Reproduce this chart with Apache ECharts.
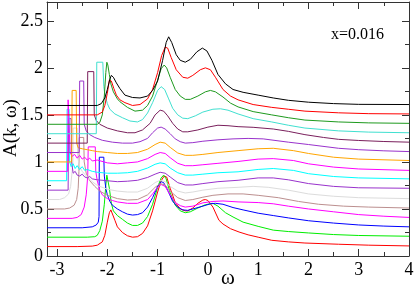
<!DOCTYPE html>
<html>
<head>
<meta charset="utf-8">
<script src="https://cdn.jsdelivr.net/npm/echarts@6/dist/echarts.min.js"></script>
<style>
html,body{margin:0;padding:0;background:#fff;}
#c{width:415px;height:287px;}
</style>
</head>
<body>
<div id="c"></div>
<script>
// Tick values
const xMajorTicks = [-3, -2, -1, 0, 1, 2, 3, 4];
const xMinorTicks = [-2.5, -1.5, -0.5, 0.5, 1.5, 2.5, 3.5];
const yMajorTicks = [0, 0.5, 1, 1.5, 2, 2.5];
const yMinorTicks = [0.25, 0.75, 1.25, 1.75, 2.25];

// Spectra A(k, omega), [omega, A] pairs, offset curves from bottom to top
const curve01 = [[-3.2,0.1],[-2.6,0.1],[-2.3,0.105],[-2.2,0.115],[-2.1,0.15],[-2.05,0.22],[-2.0,0.36],[-1.96,0.46],[-1.93,0.49],[-1.9,0.47],[-1.85,0.38],[-1.8,0.31],[-1.7,0.25],[-1.6,0.215],[-1.5,0.2],[-1.4,0.205],[-1.3,0.24],[-1.2,0.32],[-1.1,0.48],[-1.0,0.68],[-0.93,0.8],[-0.87,0.85],[-0.82,0.84],[-0.75,0.72],[-0.65,0.57],[-0.55,0.5],[-0.45,0.48],[-0.4,0.48],[-0.3,0.51],[-0.2,0.56],[-0.1,0.595],[-0.05,0.6],[0.0,0.59],[0.1,0.52],[0.22,0.38],[0.3,0.34],[0.45,0.29],[0.62,0.255],[0.8,0.225],[1.0,0.2],[1.27,0.167],[1.6,0.15],[1.93,0.138],[2.6,0.125],[3.2,0.115],[4.0,0.107]];
const curve02 = [[-3.2,0.2],[-2.4,0.2],[-2.25,0.205],[-2.2,0.22],[-2.15,0.27],[-2.1,0.37],[-2.06,0.55],[-2.03,0.75],[-2.01,0.86],[-1.99,0.85],[-1.96,0.72],[-1.92,0.56],[-1.88,0.48],[-1.8,0.43],[-1.7,0.39],[-1.6,0.35],[-1.5,0.325],[-1.4,0.325],[-1.3,0.35],[-1.2,0.42],[-1.1,0.55],[-1.0,0.73],[-0.93,0.83],[-0.88,0.86],[-0.83,0.82],[-0.75,0.67],[-0.65,0.54],[-0.55,0.48],[-0.45,0.46],[-0.35,0.47],[-0.2,0.51],[-0.05,0.545],[0.1,0.56],[0.2,0.53],[0.35,0.46],[0.5,0.415],[0.7,0.36],[1.0,0.315],[1.3,0.275],[1.6,0.26],[2.0,0.245],[2.5,0.228],[3.0,0.218],[4.0,0.21]];
const curve03 = [[-3.2,0.3],[-2.5,0.3],[-2.3,0.31],[-2.22,0.33],[-2.18,0.36],[-2.165,0.42],[-2.16,1.05],[-2.07,1.05],[-2.06,0.85],[-2.03,0.72],[-2.0,0.65],[-1.95,0.58],[-1.9,0.54],[-1.8,0.5],[-1.7,0.47],[-1.6,0.445],[-1.5,0.435],[-1.4,0.44],[-1.3,0.46],[-1.2,0.52],[-1.1,0.62],[-1.0,0.74],[-0.93,0.79],[-0.88,0.78],[-0.8,0.7],[-0.7,0.58],[-0.6,0.52],[-0.5,0.49],[-0.4,0.485],[-0.3,0.5],[-0.1,0.53],[0.05,0.555],[0.15,0.56],[0.3,0.55],[0.5,0.515],[0.7,0.49],[1.0,0.455],[1.3,0.43],[1.6,0.405],[2.0,0.375],[2.5,0.35],[3.0,0.33],[3.5,0.318],[4.0,0.31]];
const curve04 = [[-3.2,0.4],[-2.7,0.4],[-2.6,0.41],[-2.52,0.44],[-2.46,0.52],[-2.42,0.65],[-2.39,0.85],[-2.38,1.16],[-2.24,1.16],[-2.23,0.9],[-2.2,0.8],[-2.15,0.7],[-2.1,0.65],[-2.0,0.61],[-1.9,0.59],[-1.8,0.575],[-1.6,0.56],[-1.4,0.56],[-1.2,0.6],[-1.1,0.66],[-1.0,0.73],[-0.93,0.76],[-0.85,0.74],[-0.75,0.65],[-0.65,0.57],[-0.55,0.535],[-0.45,0.52],[-0.3,0.53],[-0.1,0.565],[0.1,0.58],[0.3,0.585],[0.6,0.575],[1.0,0.568],[1.3,0.555],[1.6,0.53],[2.0,0.5],[2.5,0.47],[3.0,0.44],[3.5,0.423],[4.0,0.41]];
const curve05 = [[-3.2,0.5],[-2.85,0.5],[-2.75,0.51],[-2.66,0.54],[-2.61,0.6],[-2.58,0.72],[-2.565,0.9],[-2.56,1.26],[-2.47,1.26],[-2.46,1.0],[-2.42,0.88],[-2.35,0.8],[-2.25,0.74],[-2.15,0.69],[-2.0,0.645],[-1.8,0.61],[-1.6,0.595],[-1.4,0.6],[-1.2,0.65],[-1.05,0.73],[-0.95,0.77],[-0.85,0.755],[-0.75,0.69],[-0.6,0.62],[-0.45,0.59],[-0.3,0.6],[-0.1,0.625],[0.1,0.645],[0.4,0.66],[0.7,0.66],[1.0,0.645],[1.4,0.62],[1.8,0.58],[2.2,0.55],[2.7,0.53],[3.2,0.52],[4.0,0.51]];
const curve06 = [[-3.2,0.6],[-2.95,0.6],[-2.85,0.62],[-2.77,0.66],[-2.73,0.74],[-2.7,0.9],[-2.685,1.0],[-2.68,1.36],[-2.6,1.36],[-2.59,1.05],[-2.55,0.95],[-2.5,0.9],[-2.4,0.84],[-2.3,0.79],[-2.2,0.75],[-2.0,0.71],[-1.8,0.69],[-1.6,0.68],[-1.4,0.68],[-1.2,0.72],[-1.05,0.78],[-0.95,0.805],[-0.85,0.79],[-0.75,0.74],[-0.6,0.69],[-0.45,0.67],[-0.3,0.68],[-0.1,0.7],[0.2,0.72],[0.6,0.73],[0.9,0.74],[1.2,0.73],[1.6,0.7],[2.0,0.66],[2.5,0.635],[3.0,0.62],[4.0,0.61]];
const curve07 = [[-3.2,0.7],[-2.78,0.7],[-2.77,1.46],[-2.72,1.46],[-2.71,1.0],[-2.68,0.88],[-2.64,0.9],[-2.6,0.86],[-2.55,0.85],[-2.5,0.87],[-2.45,0.84],[-2.4,0.83],[-2.35,0.845],[-2.3,0.82],[-2.2,0.81],[-2.0,0.8],[-1.8,0.79],[-1.6,0.795],[-1.4,0.805],[-1.2,0.835],[-1.05,0.87],[-0.95,0.89],[-0.85,0.88],[-0.75,0.84],[-0.6,0.78],[-0.45,0.755],[-0.3,0.755],[-0.1,0.77],[0.2,0.79],[0.6,0.805],[1.0,0.83],[1.3,0.83],[1.6,0.81],[2.0,0.77],[2.5,0.74],[3.0,0.725],[4.0,0.72]];
const curve08 = [[-3.2,0.8],[-2.81,0.8],[-2.8,1.56],[-2.76,1.56],[-2.75,1.0],[-2.72,0.95],[-2.68,0.98],[-2.64,0.93],[-2.6,0.96],[-2.55,0.92],[-2.5,0.95],[-2.45,0.91],[-2.4,0.92],[-2.3,0.9],[-2.2,0.89],[-2.0,0.88],[-1.8,0.88],[-1.6,0.885],[-1.4,0.9],[-1.2,0.935],[-1.05,0.975],[-0.95,0.99],[-0.85,0.98],[-0.75,0.935],[-0.6,0.885],[-0.45,0.86],[-0.3,0.86],[-0.1,0.87],[0.2,0.885],[0.6,0.895],[1.0,0.92],[1.3,0.93],[1.7,0.91],[2.0,0.875],[2.5,0.845],[3.0,0.83],[4.0,0.82]];
const curve09 = [[-3.2,0.9],[-2.79,0.9],[-2.78,1.66],[-2.745,1.66],[-2.74,1.1],[-2.7,1.06],[-2.65,1.08],[-2.6,1.04],[-2.55,1.07],[-2.5,1.03],[-2.45,1.05],[-2.4,1.02],[-2.35,1.04],[-2.3,1.01],[-2.2,1.02],[-2.0,0.99],[-1.8,0.98],[-1.6,0.99],[-1.4,1.0],[-1.2,1.035],[-1.05,1.08],[-0.95,1.1],[-0.85,1.09],[-0.75,1.045],[-0.6,0.985],[-0.45,0.96],[-0.3,0.96],[-0.1,0.97],[0.2,0.985],[0.6,1.005],[1.0,1.03],[1.3,1.035],[1.7,1.015],[2.0,0.98],[2.5,0.945],[3.0,0.925],[4.0,0.91]];
const curve10 = [[-3.2,1.0],[-2.71,1.0],[-2.7,1.76],[-2.62,1.76],[-2.61,1.2],[-2.58,1.15],[-2.5,1.14],[-2.4,1.13],[-2.3,1.12],[-2.2,1.11],[-2.0,1.1],[-1.8,1.09],[-1.6,1.09],[-1.4,1.1],[-1.2,1.135],[-1.05,1.185],[-0.95,1.21],[-0.85,1.2],[-0.75,1.155],[-0.6,1.095],[-0.45,1.07],[-0.3,1.07],[-0.1,1.08],[0.2,1.1],[0.6,1.12],[1.0,1.14],[1.3,1.145],[1.7,1.12],[2.0,1.09],[2.5,1.05],[3.0,1.03],[4.0,1.015]];
const curve11 = [[-3.2,1.1],[-2.56,1.1],[-2.55,1.86],[-2.47,1.86],[-2.46,1.4],[-2.42,1.33],[-2.35,1.29],[-2.25,1.26],[-2.1,1.23],[-1.9,1.21],[-1.7,1.2],[-1.5,1.2],[-1.35,1.215],[-1.2,1.25],[-1.1,1.31],[-1.0,1.36],[-0.93,1.37],[-0.85,1.35],[-0.75,1.3],[-0.65,1.245],[-0.55,1.215],[-0.45,1.2],[-0.3,1.205],[-0.1,1.22],[0.2,1.235],[0.5,1.245],[0.8,1.25],[1.1,1.245],[1.6,1.21],[2.0,1.185],[2.6,1.145],[3.0,1.13],[3.5,1.118],[4.0,1.11]];
const curve12 = [[-3.2,1.2],[-2.4,1.2],[-2.39,1.96],[-2.27,1.96],[-2.26,1.5],[-2.22,1.44],[-2.15,1.4],[-2.0,1.36],[-1.8,1.33],[-1.6,1.31],[-1.45,1.31],[-1.3,1.34],[-1.15,1.41],[-1.05,1.5],[-0.95,1.55],[-0.88,1.54],[-0.8,1.49],[-0.7,1.41],[-0.6,1.35],[-0.5,1.32],[-0.4,1.32],[-0.2,1.34],[0.0,1.37],[0.2,1.39],[0.4,1.385],[0.6,1.375],[0.9,1.368],[1.3,1.35],[1.6,1.325],[1.93,1.29],[2.3,1.26],[2.6,1.24],[3.0,1.228],[3.5,1.217],[4.0,1.21]];
const curve13 = [[-3.2,1.3],[-2.22,1.3],[-2.21,2.06],[-2.09,2.06],[-2.07,1.8],[-2.05,1.72],[-2.0,1.62],[-1.95,1.56],[-1.85,1.51],[-1.7,1.47],[-1.55,1.435],[-1.4,1.425],[-1.3,1.45],[-1.2,1.52],[-1.1,1.63],[-1.0,1.76],[-0.93,1.8],[-0.86,1.77],[-0.78,1.67],[-0.7,1.57],[-0.6,1.5],[-0.5,1.465],[-0.4,1.46],[-0.25,1.49],[-0.1,1.53],[0.1,1.56],[0.25,1.565],[0.4,1.55],[0.6,1.51],[0.9,1.46],[1.27,1.425],[1.6,1.39],[1.93,1.36],[2.6,1.33],[3.2,1.317],[4.0,1.31]];
const curve14 = [[-3.2,1.4],[-2.2,1.4],[-2.15,1.42],[-2.1,1.5],[-2.06,1.7],[-2.03,1.95],[-2.01,2.06],[-1.99,2.03],[-1.96,1.93],[-1.93,1.83],[-1.88,1.745],[-1.8,1.67],[-1.75,1.64],[-1.6,1.58],[-1.45,1.54],[-1.3,1.55],[-1.2,1.6],[-1.1,1.7],[-1.0,1.87],[-0.93,1.99],[-0.87,2.03],[-0.82,2.0],[-0.75,1.9],[-0.65,1.77],[-0.55,1.7],[-0.45,1.665],[-0.35,1.665],[-0.2,1.7],[-0.05,1.745],[0.05,1.76],[0.15,1.745],[0.3,1.69],[0.45,1.625],[0.6,1.585],[0.9,1.535],[1.27,1.5],[1.6,1.47],[1.93,1.445],[2.6,1.425],[3.2,1.415],[4.0,1.41]];
const curve15 = [[-3.2,1.5],[-2.2,1.5],[-2.1,1.53],[-2.05,1.6],[-2.0,1.73],[-1.96,1.87],[-1.92,1.86],[-1.87,1.78],[-1.82,1.71],[-1.75,1.66],[-1.65,1.63],[-1.5,1.6],[-1.35,1.61],[-1.2,1.67],[-1.1,1.77],[-1.0,1.95],[-0.92,2.13],[-0.85,2.22],[-0.8,2.21],[-0.73,2.11],[-0.63,1.98],[-0.5,1.9],[-0.4,1.89],[-0.3,1.92],[-0.15,1.98],[-0.05,2.0],[0.05,1.98],[0.15,1.9],[0.3,1.77],[0.45,1.7],[0.6,1.66],[0.9,1.61],[1.27,1.58],[1.6,1.56],[1.93,1.54],[2.6,1.522],[3.2,1.513],[4.0,1.51]];
const curve16 = [[-3.2,1.6],[-2.2,1.6],[-2.12,1.62],[-2.05,1.68],[-2.0,1.77],[-1.95,1.88],[-1.92,1.92],[-1.88,1.9],[-1.82,1.84],[-1.75,1.78],[-1.65,1.71],[-1.5,1.685],[-1.35,1.68],[-1.2,1.7],[-1.1,1.76],[-1.0,1.86],[-0.9,2.08],[-0.83,2.27],[-0.78,2.33],[-0.72,2.27],[-0.63,2.14],[-0.55,2.08],[-0.45,2.06],[-0.35,2.09],[-0.22,2.17],[-0.11,2.21],[-0.02,2.18],[0.08,2.08],[0.2,1.93],[0.35,1.83],[0.5,1.77],[0.7,1.74],[1.0,1.71],[1.3,1.68],[1.6,1.655],[2.0,1.635],[2.5,1.62],[3.0,1.612],[4.0,1.61]];

const curves = [curve01, curve02, curve03, curve04, curve05, curve06, curve07, curve08,
                curve09, curve10, curve11, curve12, curve13, curve14, curve15, curve16];
const curveColors = ['#ff0000', '#00ee00', '#0000ff', '#ff00ff', '#bc8f8f', '#dcdcdc', '#9932cc', '#00ffff',
                     '#ff00ff', '#ffa500', '#9932cc', '#7a1f5c', '#40e0d0', '#1e9a1e', '#ff0000', '#000000'];

const FONT = 'Liberation Serif';
const AX = '#333';
const X_MIN = -3.2, X_MAX = 4, Y_MIN = 0, Y_MAX = 2.7;

function xAxisDef(pos, values, len, labels, line) {
  return {
    type: 'value', min: X_MIN, max: X_MAX, position: pos,
    axisLine: { show: line, onZero: false, lineStyle: { color: AX, width: 1 } },
    axisTick: { show: true, inside: true, length: len, customValues: values, lineStyle: { color: AX, width: 1 } },
    axisLabel: labels ? { show: true, customValues: values, fontFamily: FONT, fontSize: 18, color: '#000', margin: 5,
      formatter: v => String(v) } : { show: false },
    splitLine: { show: false }
  };
}
function yAxisDef(pos, values, len, labels, line) {
  return {
    type: 'value', min: Y_MIN, max: Y_MAX, position: pos,
    axisLine: { show: line, onZero: false, lineStyle: { color: AX, width: 1 } },
    axisTick: { show: true, inside: true, length: len, customValues: values, lineStyle: { color: AX, width: 1 } },
    axisLabel: labels ? { show: true, customValues: values, fontFamily: FONT, fontSize: 18, color: '#000', margin: 4,
      formatter: v => String(v) } : { show: false },
    splitLine: { show: false }
  };
}

const xAxes = [
  xAxisDef('bottom', xMajorTicks, 7, true, true),
  xAxisDef('bottom', xMinorTicks, 4, false, false),
  xAxisDef('top', xMajorTicks, 7, false, true),
  xAxisDef('top', xMinorTicks, 4, false, false)
];
const yAxes = [
  yAxisDef('left', yMajorTicks, 7, true, true),
  yAxisDef('left', yMinorTicks, 4, false, false),
  yAxisDef('right', yMajorTicks, 7, false, true),
  yAxisDef('right', yMinorTicks, 4, false, false)
];

const chart = echarts.init(document.getElementById('c'), null, { renderer: 'canvas' });
chart.setOption({
  animation: false,
  backgroundColor: '#fff',
  grid: { left: 47, right: 6, top: 2, bottom: 31, containLabel: false, outerBoundsMode: 'none' },
  xAxis: xAxes,
  yAxis: yAxes,
  graphic: [
    { type: 'text', left: 331, top: 27,
      style: { text: 'x=0.016', fontFamily: FONT, fontSize: 16, fill: '#000' } },
    { type: 'text', x: 11, y: 128, rotation: Math.PI / 2,
      style: { text: 'A(k, ω)', fontFamily: FONT, fontSize: 19, fill: '#000', align: 'center', verticalAlign: 'middle' } },
    { type: 'text', x: 228, y: 278,
      style: { text: 'ω', fontFamily: FONT, fontSize: 21, fill: '#000', align: 'center', verticalAlign: 'middle' } }
  ],
  series: curves.map((d, i) => ({
    type: 'line', data: d, xAxisIndex: 0, yAxisIndex: 0,
    showSymbol: false, symbol: 'none', smooth: false,
    lineStyle: { color: curveColors[i], width: 1 },
    itemStyle: { color: curveColors[i] },
    clip: true, z: 2 + i
  }))
});
</script>
</body>
</html>
